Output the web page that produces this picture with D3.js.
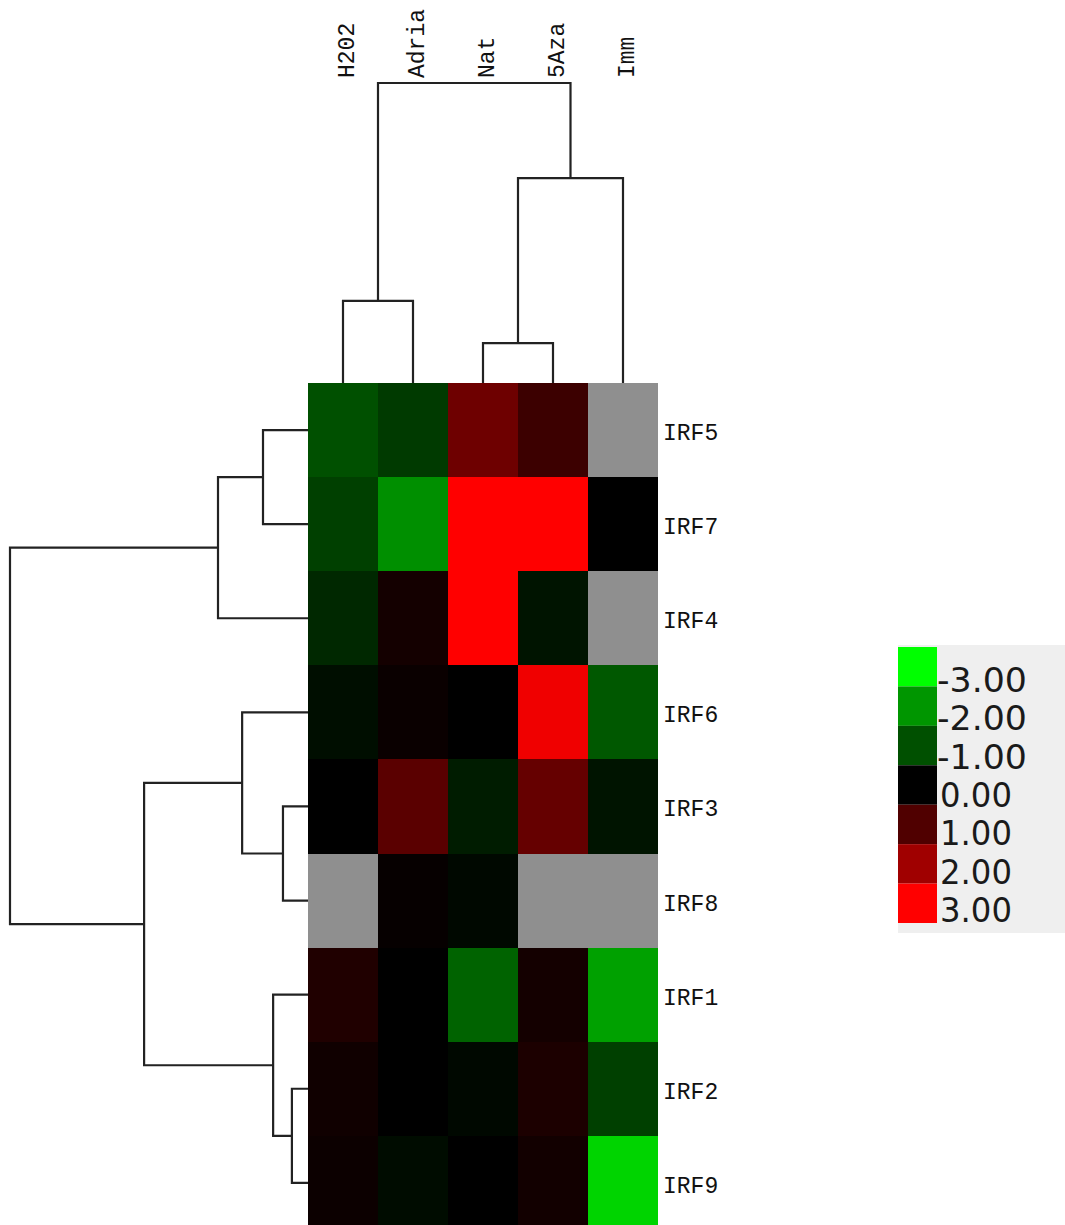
<!DOCTYPE html>
<html>
<head>
<meta charset="utf-8">
<script src="https://cdn.jsdelivr.net/npm/d3@7"></script>
<style>
  html, body { margin: 0; padding: 0; background: #fff; }
</style>
</head>
<body>
<svg id="heatmap" width="1065" height="1225"></svg>
<script>
// data
const rowLabels = ["IRF5", "IRF7", "IRF4", "IRF6", "IRF3", "IRF8", "IRF1", "IRF2", "IRF9"];
const colLabels = ["H202", "Adria", "Nat", "5Aza", "Imm"];

// log ratio per gene (rows) and treatment (cols), null = missing
const values = [
  [-1.00, -0.73,  1.38,  0.75,  null],
  [-0.80, -1.90,  3.20,  3.10,  0.00],
  [-0.50,  0.25,  3.30, -0.25,  null],
  [-0.17,  0.12,  0.00,  2.84, -1.11],
  [ 0.00,  1.12, -0.35,  1.26, -0.25],
  [ null,  0.07, -0.10,  null,  null],
  [ 0.40,  0.00, -1.27,  0.25, -2.10],
  [ 0.20,  0.00, -0.10,  0.35, -0.80],
  [ 0.15, -0.15,  0.00,  0.22, -2.59]
];

// linkage: [left, right, height]; leaves are 0..n-1, merged nodes get n, n+1, ...
const rowLinkage = [
  [0, 1, 0.151],
  [9, 2, 0.302],
  [4, 5, 0.084],
  [3, 11, 0.221],
  [7, 8, 0.054],
  [6, 13, 0.117],
  [12, 14, 0.550],
  [10, 15, 1.000]
];
const colLinkage = [
  [2, 3, 0.133],
  [0, 1, 0.274],
  [5, 4, 0.683],
  [6, 7, 1.000]
];

const legendValues = [-3, -2, -1, 0, 1, 2, 3];
const legendColors = ["#00ff00", "#009600", "#005000", "#000000", "#500000", "#a00000", "#ff0000"];
const legendLabels = ["-3.00", "-2.00", "-1.00", "0.00", "1.00", "2.00", "3.00"];

const svg = d3.select("#heatmap");

const hm = { left: 308, top: 383, width: 350, height: 9 * 94.1 };

const x = d3.scaleBand().domain(colLabels).range([hm.left, hm.left + hm.width]);
const y = d3.scaleBand().domain(rowLabels).range([hm.top, hm.top + hm.height]);

const color = d3.scaleLinear()
  .domain(legendValues)
  .range(legendColors)
  .clamp(true);

const cells = [];
values.forEach((row, i) => row.forEach((v, j) => cells.push({ r: rowLabels[i], c: colLabels[j], v })));

svg.append("g")
  .selectAll("rect")
  .data(cells)
  .enter().append("rect")
  .attr("x", d => x(d.c))
  .attr("y", d => y(d.r))
  .attr("width", x.bandwidth())
  .attr("height", y.bandwidth())
  .attr("fill", d => d.v === null ? "#8f8f8f" : color(d.v))
  .attr("shape-rendering", "crispEdges");

// labels
svg.append("g")
  .selectAll("text")
  .data(rowLabels)
  .enter().append("text")
  .attr("x", hm.left + hm.width + 5)
  .attr("y", d => y(d) + y.bandwidth() / 2 + 10)
  .style("font-family", "'Liberation Mono', 'Courier New', monospace")
  .style("font-size", "23px")
  .attr("fill", "#111")
  .text(d => d);

svg.append("g")
  .selectAll("text")
  .data(colLabels)
  .enter().append("text")
  .attr("transform", d => `translate(${x(d) + x.bandwidth() / 2 + 11},78) rotate(-90)`)
  .attr("text-anchor", "start")
  .style("font-family", "'Liberation Mono', 'Courier New', monospace")
  .style("font-size", "23px")
  .attr("fill", "#111")
  .text(d => d);

// dendrograms
function buildTree(linkage, leafPos) {
  const pos = leafPos.slice();
  const h = leafPos.map(() => 0);
  const links = [];
  linkage.forEach(([a, b, height]) => {
    links.push({ a: pos[a], ha: h[a], b: pos[b], hb: h[b], h: height });
    pos.push((pos[a] + pos[b]) / 2);
    h.push(height);
  });
  return links;
}

const colH = d3.scaleLinear().domain([0, 1]).range([hm.top, 83]);
const rowH = d3.scaleLinear().domain([0, 1]).range([hm.left, 10]);

const colLinks = buildTree(colLinkage, colLabels.map(c => x(c) + x.bandwidth() / 2));
const rowLinks = buildTree(rowLinkage, rowLabels.map(r => y(r) + y.bandwidth() / 2));

const dendro = svg.append("g")
  .attr("fill", "none")
  .attr("stroke", "#222")
  .attr("stroke-width", 2.2);

dendro.selectAll("path.col")
  .data(colLinks)
  .enter().append("path")
  .attr("class", "col")
  .attr("d", d => `M${d.a},${colH(d.ha)}V${colH(d.h)}H${d.b}V${colH(d.hb)}`);

dendro.selectAll("path.row")
  .data(rowLinks)
  .enter().append("path")
  .attr("class", "row")
  .attr("d", d => `M${rowH(d.ha)},${d.a}H${rowH(d.h)}V${d.b}H${rowH(d.hb)}`);

// legend
const lg = svg.append("g");
lg.append("rect")
  .attr("x", 898).attr("y", 645)
  .attr("width", 167).attr("height", 288)
  .attr("fill", "#efefef");

const ls = d3.scaleBand().domain(legendLabels).range([647, 923]);
lg.selectAll("rect.sw")
  .data(legendLabels)
  .enter().append("rect")
  .attr("class", "sw")
  .attr("x", 898)
  .attr("y", d => ls(d))
  .attr("width", 39)
  .attr("height", ls.bandwidth())
  .attr("fill", (d, i) => legendColors[i]);

const lt = d3.scalePoint().domain(legendLabels).range([692, 922]);
lg.selectAll("text")
  .data(legendLabels)
  .enter().append("text")
  .attr("x", d => d.startsWith("-") ? 937 : 940)
  .attr("y", d => lt(d))
  .attr("textLength", d => d.startsWith("-") ? 90 : 72)
  .attr("lengthAdjust", "spacingAndGlyphs")
  .style("font-family", "'DejaVu Sans', sans-serif")
  .style("font-size", "33px")
  .attr("fill", "#1a1a1a")
  .text(d => d);
</script>
</body>
</html>
